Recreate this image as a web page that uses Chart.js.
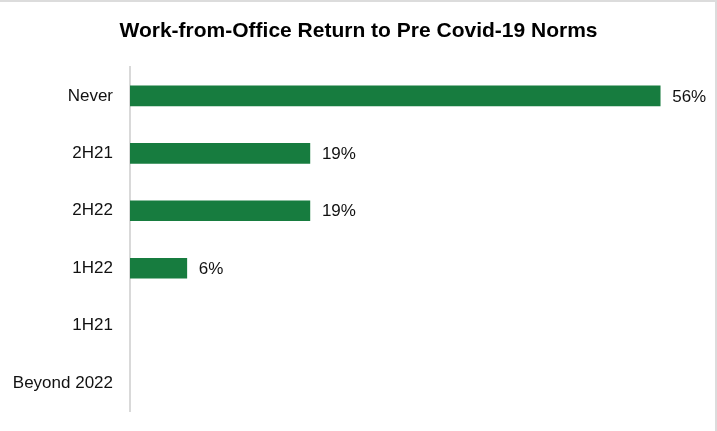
<!DOCTYPE html>
<html>
<head>
<meta charset="utf-8">
<script src="https://cdn.jsdelivr.net/npm/chart.js@4.4.1/dist/chart.umd.min.js"></script>
<style>
  html, body { margin: 0; padding: 0; background: #fff; }
  .wrap { position: relative; width: 717px; height: 431px; }
  .wrap canvas { position: absolute; left: 0; top: 0; }
  .frame {
    position: absolute; left: 0; top: 0; width: 717px; height: 431px;
    box-sizing: border-box; pointer-events: none;
    border-top: 2px solid #dcdcdc; border-right: 2px solid #dcdcdc;
  }
</style>
</head>
<body>
<div class="wrap">
  <canvas id="wfoChart" width="717" height="431"></canvas>
  <div class="frame"></div>
</div>
<script>
  const categories = ['Never', '2H21', '2H22', '1H22', '1H21', 'Beyond 2022'];
  const shares = [56, 19, 19, 6, 0, 0];   // percent of respondents

  const FONT = '"Liberation Sans", Arial, sans-serif';

  // Writes "NN%" just past the end of each non-zero bar
  const barValueLabels = {
    id: 'barValueLabels',
    afterDatasetsDraw(chart) {
      const ctx = chart.ctx;
      const meta = chart.getDatasetMeta(0);
      ctx.save();
      ctx.font = '17px ' + FONT;
      ctx.fillStyle = '#111';
      ctx.textAlign = 'left';
      ctx.textBaseline = 'middle';
      meta.data.forEach((bar, i) => {
        const v = shares[i];
        if (!v) return;
        ctx.fillText(v + '%', bar.x + 12, bar.y + 1);
      });
      ctx.restore();
    }
  };

  const ctx = document.getElementById('wfoChart').getContext('2d');
  new Chart(ctx, {
    type: 'bar',
    data: {
      labels: categories,
      datasets: [{
        data: shares,
        // zero-height bars would still leave a hairline, so hide them
        backgroundColor: (c) => (c.raw ? '#177c3f' : 'rgba(0,0,0,0)'),
        borderWidth: 0,
        barThickness: 20
      }]
    },
    plugins: [barValueLabels],
    options: {
      indexAxis: 'y',
      responsive: false,
      animation: false,
      layout: { padding: { left: 0, right: 0, top: 0, bottom: 17 } },
      scales: {
        x: {
          display: false,
          min: 0,
          max: 62
        },
        y: {
          grid: { display: false },
          border: { display: true, color: '#d9d9d9', width: 2 },
          ticks: {
            color: '#111',
            padding: 9,
            font: { family: FONT, size: 17 }
          },
          afterFit: (scale) => { scale.width = 130; }
        }
      },
      plugins: {
        legend: { display: false },
        tooltip: { enabled: false },
        title: {
          display: true,
          text: 'Work-from-Office Return to Pre Covid-19 Norms',
          color: '#000',
          font: { family: FONT, size: 21, weight: 'bold' },
          padding: { top: 19, bottom: 23 }
        }
      }
    }
  });
</script>
</body>
</html>
